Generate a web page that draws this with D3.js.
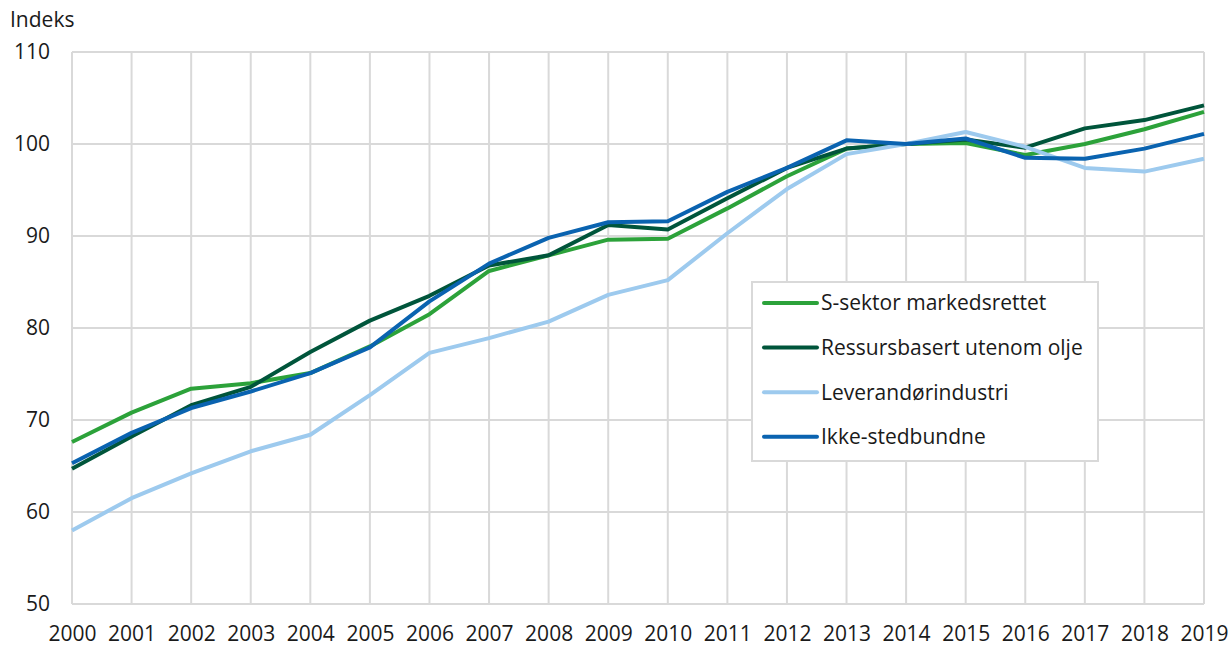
<!DOCTYPE html>
<html>
<head>
<meta charset="utf-8">
<script src="https://cdn.jsdelivr.net/npm/d3@7"></script>
<style>
  html, body { margin: 0; padding: 0; background: #fff; }
  svg { display: block; font-family: "Open Sans", sans-serif; }
  .grid line { stroke: #d9d9d9; stroke-width: 2; }
  .tick text { fill: #1a1a1a; }
</style>
</head>
<body>
<svg id="chart" width="1232" height="646"></svg>
<script>
// years along the x axis
const years = d3.range(2000, 2020);

// index values (2014 = 100)
const sSektor = [67.6, 70.8, 73.4, 74.0, 75.1, 78.0, 81.5, 86.2, 87.9, 89.6,
                 89.7, 93.0, 96.5, 99.5, 100.0, 100.1, 98.8, 100.0, 101.6, 103.5];
const ressurs = [64.7, 68.2, 71.6, 73.6, 77.4, 80.8, 83.5, 86.8, 87.9, 91.2,
                 90.7, 94.1, 97.4, 99.5, 100.0, 100.5, 99.6, 101.7, 102.6, 104.2];
const leverandor = [58.0, 61.5, 64.2, 66.6, 68.4, 72.7, 77.3, 78.9, 80.7, 83.6,
                    85.2, 90.3, 95.1, 98.9, 100.0, 101.3, 99.7, 97.4, 97.0, 98.4];
const ikkeSted = [65.3, 68.6, 71.3, 73.1, 75.1, 77.9, 82.9, 87.0, 89.8, 91.5,
                  91.6, 94.8, 97.4, 100.4, 100.0, 100.6, 98.5, 98.4, 99.5, 101.1];

const yTicks = [50, 60, 70, 80, 90, 100, 110];

const series = [
  { name: "S-sektor markedsrettet", values: sSektor, color: "#2ca23a" },
  { name: "Ressursbasert utenom olje", values: ressurs, color: "#00553b" },
  { name: "Leverandørindustri", values: leverandor, color: "#9dcaee" },
  { name: "Ikke-stedbundne", values: ikkeSted, color: "#0a63b0" },
];

const svg = d3.select("#chart");
const m = { left: 72, right: 28, top: 52, bottom: 42 };
const W = 1232, H = 646;
const FS = 21;

const x = d3.scaleLinear().domain([2000, 2019]).range([m.left, W - m.right]);
const y = d3.scaleLinear().domain([50, 110]).range([H - m.bottom, m.top]);

// gridlines (horizontal + vertical, one per year)
const grid = svg.append("g").attr("class", "grid");
grid.selectAll("line.h").data(yTicks).join("line")
  .attr("class", "h")
  .attr("x1", m.left).attr("x2", W - m.right)
  .attr("y1", (d) => y(d)).attr("y2", (d) => y(d));
grid.selectAll("line.v").data(years).join("line")
  .attr("class", "v")
  .attr("x1", (d) => x(d)).attr("x2", (d) => x(d))
  .attr("y1", y(110)).attr("y2", y(50));

// axes: text only, the grid does the lines
const yAxis = svg.append("g")
  .attr("transform", `translate(${m.left},0)`)
  .call(d3.axisLeft(y).tickValues(yTicks).tickSize(0).tickPadding(22));
const xAxis = svg.append("g")
  .attr("transform", `translate(0,${y(50)})`)
  .call(d3.axisBottom(x).tickValues(years).tickFormat(d3.format("d")).tickSize(0).tickPadding(22));
[yAxis, xAxis].forEach((a) => {
  a.select(".domain").remove();
  a.selectAll("text").attr("font-size", FS).attr("font-family", "Open Sans, sans-serif");
});

svg.append("text")
  .attr("x", 10).attr("y", 27)
  .attr("font-size", FS).attr("fill", "#1a1a1a")
  .text("Indeks");

// the lines
const line = d3.line().x((d, i) => x(years[i])).y((d) => y(d));
svg.append("g").selectAll("path").data(series).join("path")
  .attr("fill", "none")
  .attr("stroke", (d) => d.color)
  .attr("stroke-width", 4)
  .attr("stroke-linejoin", "round")
  .attr("d", (d) => line(d.values));

// legend box
const lg = svg.append("g").attr("transform", "translate(752,282)");
lg.append("rect")
  .attr("width", 346).attr("height", 179)
  .attr("fill", "#fff").attr("stroke", "#d9d9d9").attr("stroke-width", 2);
const rows = lg.selectAll("g.row").data(series).join("g")
  .attr("class", "row")
  .attr("transform", (d, i) => `translate(0,${21 + i * 44.6})`);
rows.append("line")
  .attr("x1", 12).attr("x2", 65)
  .attr("stroke", (d) => d.color).attr("stroke-width", 4).attr("stroke-linecap", "round");
rows.append("text")
  .attr("x", 69).attr("dy", "0.35em")
  .attr("font-size", FS).attr("fill", "#1a1a1a")
  .text((d) => d.name);
</script>
</body>
</html>
